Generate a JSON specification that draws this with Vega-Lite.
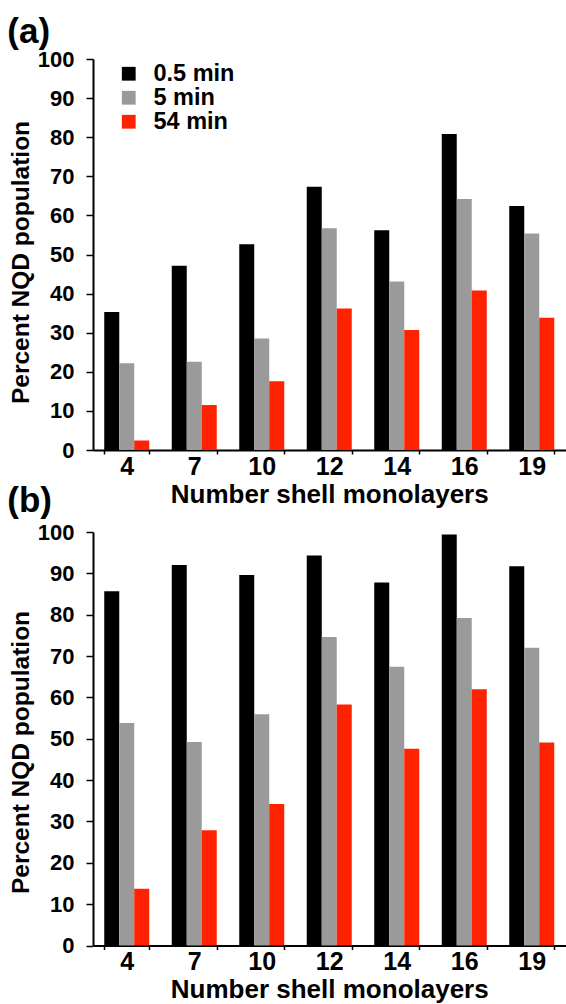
{
  "$schema": "https://vega.github.io/schema/vega-lite/v6.json",
  "padding": {"left": 7, "top": 15, "right": 0, "bottom": 0},
  "background": "white",
  "config": {
    "font": "Liberation Sans",
    "view": {"stroke": null},
    "axis": {"domainColor": "black", "domainWidth": 2, "tickColor": "black", "tickWidth": 1.5, "labelColor": "black", "titleColor": "black", "labelFont": "Liberation Sans", "titleFont": "Liberation Sans", "labelFontWeight": "bold", "titleFontWeight": "bold", "grid": false},
    "title": {"font": "Liberation Sans", "fontWeight": "bold", "fontSize": 35, "color": "black", "anchor": "start", "frame": "bounds"}
  },
  "datasets": {
    "d": [
      {"panel": "a", "layers": 4, "time": "0.5 min", "value": 35.3},
      {"panel": "a", "layers": 4, "time": "5 min", "value": 22.2},
      {"panel": "a", "layers": 4, "time": "54 min", "value": 2.4},
      {"panel": "a", "layers": 7, "time": "0.5 min", "value": 47.1},
      {"panel": "a", "layers": 7, "time": "5 min", "value": 22.6},
      {"panel": "a", "layers": 7, "time": "54 min", "value": 11.5},
      {"panel": "a", "layers": 10, "time": "0.5 min", "value": 52.6},
      {"panel": "a", "layers": 10, "time": "5 min", "value": 28.5},
      {"panel": "a", "layers": 10, "time": "54 min", "value": 17.6},
      {"panel": "a", "layers": 12, "time": "0.5 min", "value": 67.3},
      {"panel": "a", "layers": 12, "time": "5 min", "value": 56.7},
      {"panel": "a", "layers": 12, "time": "54 min", "value": 36.2},
      {"panel": "a", "layers": 14, "time": "0.5 min", "value": 56.2},
      {"panel": "a", "layers": 14, "time": "5 min", "value": 43.1},
      {"panel": "a", "layers": 14, "time": "54 min", "value": 30.7},
      {"panel": "a", "layers": 16, "time": "0.5 min", "value": 80.8},
      {"panel": "a", "layers": 16, "time": "5 min", "value": 64.2},
      {"panel": "a", "layers": 16, "time": "54 min", "value": 40.8},
      {"panel": "a", "layers": 19, "time": "0.5 min", "value": 62.4},
      {"panel": "a", "layers": 19, "time": "5 min", "value": 55.4},
      {"panel": "a", "layers": 19, "time": "54 min", "value": 33.8},
      {"panel": "b", "layers": 4, "time": "0.5 min", "value": 85.7},
      {"panel": "b", "layers": 4, "time": "5 min", "value": 53.8},
      {"panel": "b", "layers": 4, "time": "54 min", "value": 13.7},
      {"panel": "b", "layers": 7, "time": "0.5 min", "value": 92.0},
      {"panel": "b", "layers": 7, "time": "5 min", "value": 49.2},
      {"panel": "b", "layers": 7, "time": "54 min", "value": 27.9},
      {"panel": "b", "layers": 10, "time": "0.5 min", "value": 89.6},
      {"panel": "b", "layers": 10, "time": "5 min", "value": 55.9},
      {"panel": "b", "layers": 10, "time": "54 min", "value": 34.2},
      {"panel": "b", "layers": 12, "time": "0.5 min", "value": 94.3},
      {"panel": "b", "layers": 12, "time": "5 min", "value": 74.6},
      {"panel": "b", "layers": 12, "time": "54 min", "value": 58.3},
      {"panel": "b", "layers": 14, "time": "0.5 min", "value": 87.8},
      {"panel": "b", "layers": 14, "time": "5 min", "value": 67.4},
      {"panel": "b", "layers": 14, "time": "54 min", "value": 47.6},
      {"panel": "b", "layers": 16, "time": "0.5 min", "value": 99.4},
      {"panel": "b", "layers": 16, "time": "5 min", "value": 79.2},
      {"panel": "b", "layers": 16, "time": "54 min", "value": 62.0},
      {"panel": "b", "layers": 19, "time": "0.5 min", "value": 91.7},
      {"panel": "b", "layers": 19, "time": "5 min", "value": 72.0},
      {"panel": "b", "layers": 19, "time": "54 min", "value": 49.1}
    ]
  },
  "resolve": {"legend": {"color": "independent"}},
  "spacing": -23,
  "vconcat": [
    {
      "title": {"text": "(a)", "dx": -1, "offset": -2},
      "width": 472.5,
      "height": 391,
      "data": {"name": "d"},
      "transform": [{"filter": "datum.panel == 'a'"}],
      "mark": {"type": "bar"},
      "encoding": {
        "x": {"field": "layers", "type": "ordinal", "scale": {"paddingInner": 0.3333, "paddingOuter": 0.1667},
          "axis": {"title": "Number shell monolayers", "labelAngle": 0, "tickBand": "extent", "tickSize": 4, "labelFontSize": 25, "titleFontSize": 26, "labelPadding": 0, "titlePadding": 2}},
        "xOffset": {"field": "time", "type": "nominal", "sort": ["0.5 min", "5 min", "54 min"], "scale": {"paddingInner": 0, "paddingOuter": 0}},
        "y": {"field": "value", "type": "quantitative", "scale": {"domain": [0, 100], "nice": false},
          "axis": {"title": "Percent NQD population", "values": [0, 10, 20, 30, 40, 50, 60, 70, 80, 90, 100], "tickSize": 7, "labelPadding": 12, "labelFontSize": 22, "titleFontSize": 24.5, "titlePadding": 4, "titleY": 203}},
        "color": {"field": "time", "type": "nominal", "sort": ["0.5 min", "5 min", "54 min"],
          "scale": {"domain": ["0.5 min", "5 min", "54 min"], "range": ["#000000", "#9a9a9a", "#ff2200"]},
          "legend": {"title": null, "orient": "none", "legendX": 24, "legendY": 3, "symbolType": "square", "symbolSize": 190, "labelFontSize": 23.5, "labelFontWeight": "bold", "labelFont": "Liberation Sans", "labelColor": "black", "labelOffset": 13, "rowPadding": -1, "symbolStrokeWidth": 0}}
      }
    },
    {
      "title": {"text": "(b)", "dx": -1, "offset": 2},
      "width": 472.5,
      "height": 413.5,
      "data": {"name": "d"},
      "transform": [{"filter": "datum.panel == 'b'"}],
      "mark": {"type": "bar"},
      "encoding": {
        "x": {"field": "layers", "type": "ordinal", "scale": {"paddingInner": 0.3333, "paddingOuter": 0.1667},
          "axis": {"title": "Number shell monolayers", "labelAngle": 0, "tickBand": "extent", "tickSize": 4, "labelFontSize": 25, "titleFontSize": 26, "labelPadding": 0, "titlePadding": 2}},
        "xOffset": {"field": "time", "type": "nominal", "sort": ["0.5 min", "5 min", "54 min"], "scale": {"paddingInner": 0, "paddingOuter": 0}},
        "y": {"field": "value", "type": "quantitative", "scale": {"domain": [0, 100], "nice": false},
          "axis": {"title": "Percent NQD population", "values": [0, 10, 20, 30, 40, 50, 60, 70, 80, 90, 100], "tickSize": 7, "labelPadding": 12, "labelFontSize": 22, "titleFontSize": 24.5, "titlePadding": 4, "titleY": 220}},
        "color": {"field": "time", "type": "nominal", "sort": ["0.5 min", "5 min", "54 min"],
          "scale": {"domain": ["0.5 min", "5 min", "54 min"], "range": ["#000000", "#9a9a9a", "#ff2200"]},
          "legend": null}
      }
    }
  ]
}
